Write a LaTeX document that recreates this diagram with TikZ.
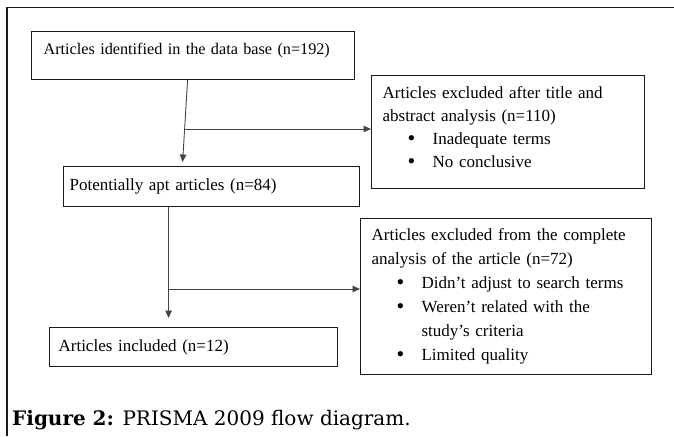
\documentclass[tikz,border=0pt]{standalone}
\usepackage{fontspec}
\setmainfont{Liberation Serif}
\newfontfamily\capfont{DejaVu Serif}
\usetikzlibrary{positioning,arrows.meta,calc}
\definecolor{frameline}{HTML}{1A1A1A}
\definecolor{arrowline}{HTML}{454545}
\tikzset{
  stagebox/.style={rectangle,draw=frameline,line width=1.2pt,anchor=north west,align=left,inner xsep=11pt,inner ysep=0pt,font=\fontsize{17}{23}\selectfont},
  flow/.style={-{Triangle[length=7.5pt,width=6.5pt]},line width=0.9pt,draw=arrowline},
  capt/.style={anchor=west,inner sep=0pt,font=\capfont\fontsize{20}{24}\selectfont},
}
\newcommand{\excitem}[1]{\hspace*{25pt}\makebox[25pt][l]{\raisebox{-0.5pt}{\fontsize{22}{23}\selectfont\textbullet}}#1}
% empty last line, lifts the text block a little
\newcommand{\liftup}{\\[-13pt]\mbox{}}

\begin{document}
\begin{tikzpicture}[x=1pt,y=-1pt]
  \useasboundingbox (0,0) rectangle (674,436);
  \draw[frameline,line width=1.4pt] (7,436) -- (7,7.5) -- (674,7.5);
  \node[stagebox,minimum width=323pt,minimum height=48pt,inner xsep=12pt,text width=299pt,text depth=14pt,font=\fontsize{16.2}{22}\selectfont] (ident) at (31,31) {Articles identified in the data base (n=192)};
  \node[stagebox,minimum width=273pt,minimum height=113pt,text width=251pt] (excl1) at (371,75) {Articles excluded after title and\\abstract analysis (n=110)\\\excitem{Inadequate terms}\\\excitem{No conclusive}\liftup};
  \node[stagebox,minimum width=296pt,minimum height=40pt,inner xsep=6pt,text width=284pt] (apt) at (63,166) {Potentially apt articles (n=84)};
  \node[stagebox,minimum width=291pt,minimum height=156pt,text width=269pt,font=\fontsize{17}{24}\selectfont] (excl2) at (360,218) {Articles excluded from the complete\\analysis of the article (n=72)\\\excitem{Didn't adjust to search terms}\\\excitem{Weren't related with the}\\\hspace*{50pt}study's criteria\\\excitem{Limited quality}};
  \node[stagebox,minimum width=288pt,minimum height=39pt,inner xsep=9pt,text width=270pt] (incl) at (49,327) {Articles included (n=12)};
  \coordinate (j1) at (184,129);
  \coordinate (j2) at (168,289);
  \draw[flow]([xshift=-5.5pt]ident.south)--([xshift=-29pt,yshift=4pt]apt.north);\draw[flow](j1)--(j1-|excl1.west);
  \draw[flow]([xshift=-43pt]apt.south)--([xshift=-25pt,yshift=9pt]incl.north);\draw[flow](j2)--(j2-|excl2.west);
  \node[capt] (cap) at (12,420) {\textbf{Figure 2:} PRISMA 2009 flow diagram.};
\end{tikzpicture}
\end{document}
